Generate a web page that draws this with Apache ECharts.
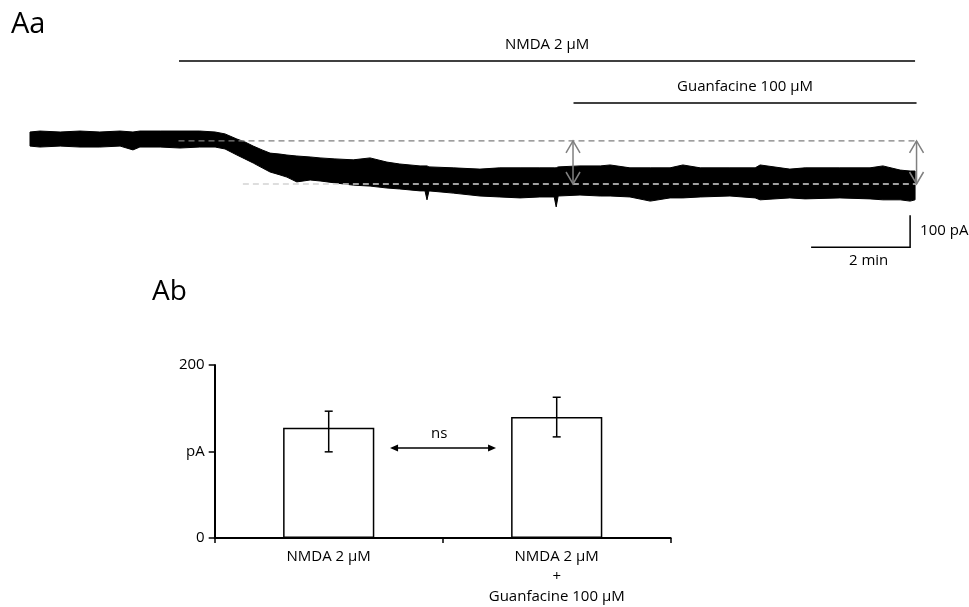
<!DOCTYPE html>
<html><head><meta charset="utf-8">
<script src="https://cdn.jsdelivr.net/npm/echarts@6/dist/echarts.min.js"></script>
<style>html,body{margin:0;padding:0;background:#fff}#c{width:969px;height:607px}</style>
</head><body><div id="c"></div>
<script>
// ---------- Panel Aa: whole-cell current trace (envelope) ----------
// time in minutes, current in pA relative to baseline
const traceTime  = [0.00,0.20,0.61,1.01,1.41,1.82,2.08,2.22,2.63,3.03,3.43,3.74,3.94,4.18,4.34,4.51,4.69,4.85,5.05,5.19,5.39,5.66,5.86,6.16,6.53,6.87,7.21,7.47,7.88,7.98,8.02,8.06,8.55,9.09,9.49,9.90,10.30,10.59,10.63,10.67,11.11,11.52,11.72,12.12,12.53,12.93,13.19,13.54,14.14,14.65,14.75,15.35,15.66,16.36,16.97,17.23,17.58,17.78,17.88];
const traceUpper = [25,28,25,28,25,28,25,28,28,28,28,25,19,3,-6,-19,-31,-41,-44,-47,-50,-53,-56,-59,-62,-56,-69,-75,-81,-81,-81,-84,-87,-91,-87,-87,-87,-87,-87,-84,-81,-81,-78,-87,-87,-87,-78,-87,-87,-87,-78,-91,-87,-87,-87,-81,-94,-97,-97];
const traceLower = [-19,-22,-19,-22,-22,-19,-31,-22,-22,-25,-22,-22,-28,-47,-59,-72,-87,-100,-109,-116,-131,-125,-128,-134,-141,-144,-150,-153,-159,-159,-187,-159,-166,-175,-178,-181,-178,-178,-209,-175,-172,-175,-175,-178,-191,-181,-181,-178,-175,-181,-187,-181,-184,-181,-184,-187,-187,-191,-187];

// drug applications
const appLabels = ['NMDA 2 µM', 'Guanfacine 100 µM'];
const appStart  = [3.01, 10.98];
const appEnd    = [17.88, 17.91];

// amplitude markers
const baselineLevel = -3;      // pA
const nmdaLevel     = -137.5;  // pA
const dashStart     = [3.0, 4.3];
const dashEnd       = 17.91;
const arrowTimes    = [10.97, 17.91];

// scale bar
const scaleTime = 2;       // min
const scaleCurrent = 100;  // pA
const scaleLabels = ['2 min', '100 pA'];

// ---------- Panel Ab: bar chart ----------
const barCategories = ['NMDA 2 µM', 'NMDA 2 µM\n+\nGuanfacine 100 µM'];
const barMeans = [127.6, 140];
const errLow   = [99.6, 116.9];
const errHigh  = [146.6, 162.7];
const yTickValues = [0, 100, 200];
const yTickLabels = ['0', 'pA', '200'];
const sigLabel = 'ns';

// ---------- layout (not data) ----------
const L = {
  appLevel: [247, 116],     // y-level (pA units of top panel) of application bars
  scaleCorner: [17.78, -335],
  sigArrow: {x0: 0.769, x1: 1.234, y: 104, textX: 0.985, textY: 120}
};
const FONT = '"Open Sans"';

const chart = echarts.init(document.getElementById('c'), null, {renderer: 'canvas'});

function txt(text, x, y, size, align, valign, color) {
  return {type: 'text', style: {text, x, y, font: size + 'px ' + FONT, fill: color || '#000',
    textAlign: align || 'center', textVerticalAlign: valign || 'middle'}};
}

const option = {
  animation: false,
  backgroundColor: '#fff',
  textStyle: {fontFamily: 'Open Sans'},
  graphic: [
    txt('Aa', 11, 25, 29, 'left', 'middle'),
    txt('Ab', 152, 292, 28, 'left', 'middle')
  ],
  grid: [
    {left: 30, top: 44, width: 891, height: 224},
    {left: 214.7, top: 365, width: 456, height: 173.3}
  ],
  xAxis: [
    {gridIndex: 0, type: 'value', min: 0, max: 18, show: false},
    {gridIndex: 1, type: 'category', data: barCategories, boundaryGap: true,
      axisLine: {lineStyle: {color: '#000', width: 2}},
      axisTick: {show: true, alignWithLabel: false, length: 5, lineStyle: {color: '#000', width: 1.5}},
      axisLabel: {color: '#000', fontSize: 15, margin: 9, lineHeight: 20, fontFamily: 'Open Sans'}
    },
    {gridIndex: 1, type: 'value', min: 0, max: 2, show: false}
  ],
  yAxis: [
    {gridIndex: 0, type: 'value', min: -400, max: 300, show: false},
    {gridIndex: 1, type: 'value', min: 0, max: 200, interval: 100,
      axisLine: {show: true, lineStyle: {color: '#000', width: 2}},
      axisTick: {show: true, length: 6, lineStyle: {color: '#000', width: 1.5}},
      splitLine: {show: false},
      axisLabel: {color: '#000', fontSize: 15, margin: 10, fontFamily: 'Open Sans',
        formatter: v => { const k = yTickValues.indexOf(v); return k >= 0 ? yTickLabels[k] : ''; }}
    }
  ],
  series: [
    // trace band
    {type: 'custom', xAxisIndex: 0, yAxisIndex: 0, z: 2, silent: true,
      data: traceTime.map((t, i) => [t, traceUpper[i], traceLower[i]]),
      renderItem: (p, api) => {
        if (p.dataIndex !== 0) return null;
        const pts = [];
        for (let i = 0; i < traceTime.length; i++) pts.push(api.coord([traceTime[i], traceUpper[i]]));
        for (let i = traceTime.length - 1; i >= 0; i--) pts.push(api.coord([traceTime[i], traceLower[i]]));
        return {type: 'polygon', shape: {points: pts}, style: {fill: '#000', stroke: '#000', lineWidth: 1}};
      }
    },
    // upper dashed (baseline)
    {type: 'line', xAxisIndex: 0, yAxisIndex: 0, z: 3, symbol: 'none', silent: true,
      data: [[dashStart[0], baselineLevel], [dashEnd, baselineLevel]],
      lineStyle: {color: '#7f7f7f', width: 1.3, type: [6, 4]}},
    // lower dashed (NMDA level)
    {type: 'line', xAxisIndex: 0, yAxisIndex: 0, z: 3, symbol: 'none', silent: true,
      data: [[dashStart[1], nmdaLevel], [dashEnd, nmdaLevel]],
      lineStyle: {color: '#d4d4d4', width: 1.3, type: [6, 4]}},
    // amplitude arrows
    {type: 'custom', xAxisIndex: 0, yAxisIndex: 0, z: 4, silent: true,
      data: arrowTimes.map(t => [t, baselineLevel, nmdaLevel]),
      renderItem: (p, api) => {
        const t = api.value(0);
        const a = api.coord([t, api.value(1)]), b = api.coord([t, api.value(2)]);
        const hw = 7, hl = 12, st = {stroke: '#808080', lineWidth: 1.5, fill: null};
        return {type: 'group', children: [
          {type: 'line', shape: {x1: a[0], y1: a[1], x2: b[0], y2: b[1]}, style: st},
          {type: 'polyline', shape: {points: [[a[0] - hw, a[1] + hl], [a[0], a[1]], [a[0] + hw, a[1] + hl]]}, style: st},
          {type: 'polyline', shape: {points: [[b[0] - hw, b[1] - hl], [b[0], b[1]], [b[0] + hw, b[1] - hl]]}, style: st}
        ]};
      }
    },
    // application bars
    {type: 'custom', xAxisIndex: 0, yAxisIndex: 0, z: 4, silent: true,
      data: appStart.map((s, i) => [s, L.appLevel[i], appEnd[i]]),
      renderItem: (p, api) => {
        const i = p.dataIndex;
        const a = api.coord([appStart[i], L.appLevel[i]]), b = api.coord([appEnd[i], L.appLevel[i]]);
        return {type: 'group', children: [
          {type: 'line', shape: {x1: a[0], y1: a[1], x2: b[0], y2: b[1]}, style: {stroke: '#000', lineWidth: 1.5}},
          txt(appLabels[i], (a[0] + b[0]) / 2, a[1] - 16, 15)
        ]};
      }
    },
    // scale bar
    {type: 'custom', xAxisIndex: 0, yAxisIndex: 0, z: 4, silent: true,
      data: [[L.scaleCorner[0], L.scaleCorner[1]]],
      renderItem: (p, api) => {
        const c = api.coord([L.scaleCorner[0], L.scaleCorner[1]]);
        const l = api.coord([L.scaleCorner[0] - scaleTime, L.scaleCorner[1]]);
        const u = api.coord([L.scaleCorner[0], L.scaleCorner[1] + scaleCurrent]);
        const st = {stroke: '#000', lineWidth: 1.5};
        return {type: 'group', children: [
          {type: 'polyline', shape: {points: [l, c, u]}, style: Object.assign({fill: null}, st)},
          txt(scaleLabels[0], (l[0] + c[0]) / 2 + 8, c[1] + 14, 15),
          txt(scaleLabels[1], c[0] + 10, (c[1] + u[1]) / 2, 15, 'left')
        ]};
      }
    },
    // bars
    {type: 'bar', xAxisIndex: 1, yAxisIndex: 1, data: barMeans, barWidth: '40%', silent: true,
      itemStyle: {color: '#fff', borderColor: '#000', borderWidth: 1.5}},
    // error bars
    {type: 'custom', xAxisIndex: 1, yAxisIndex: 1, z: 5, silent: true,
      data: barMeans.map((m, i) => [i, errLow[i], errHigh[i]]),
      renderItem: (p, api) => {
        const i = api.value(0);
        const lo = api.coord([i, api.value(1)]), hi = api.coord([i, api.value(2)]);
        const w = 4, st = {stroke: '#000', lineWidth: 1.5};
        return {type: 'group', children: [
          {type: 'line', shape: {x1: lo[0], y1: lo[1], x2: hi[0], y2: hi[1]}, style: st},
          {type: 'line', shape: {x1: lo[0] - w, y1: lo[1], x2: lo[0] + w, y2: lo[1]}, style: st},
          {type: 'line', shape: {x1: hi[0] - w, y1: hi[1], x2: hi[0] + w, y2: hi[1]}, style: st}
        ]};
      }
    },
    // ns double arrow
    {type: 'custom', xAxisIndex: 2, yAxisIndex: 1, z: 5, silent: true,
      data: [[L.sigArrow.x0, L.sigArrow.y]],
      renderItem: (p, api) => {
        const a = api.coord([L.sigArrow.x0, L.sigArrow.y]), b = api.coord([L.sigArrow.x1, L.sigArrow.y]);
        const t = api.coord([L.sigArrow.textX, L.sigArrow.textY]);
        const hl = 8, hw = 3.5;
        return {type: 'group', children: [
          {type: 'line', shape: {x1: a[0] + 4, y1: a[1], x2: b[0] - 4, y2: b[1]}, style: {stroke: '#000', lineWidth: 1.5}},
          {type: 'polygon', shape: {points: [[a[0], a[1]], [a[0] + hl, a[1] - hw], [a[0] + hl, a[1] + hw]]}, style: {fill: '#000'}},
          {type: 'polygon', shape: {points: [[b[0], b[1]], [b[0] - hl, b[1] - hw], [b[0] - hl, b[1] + hw]]}, style: {fill: '#000'}},
          txt(sigLabel, t[0], t[1], 15)
        ]};
      }
    }
  ]
};
chart.setOption(option);
</script>
</body></html>
